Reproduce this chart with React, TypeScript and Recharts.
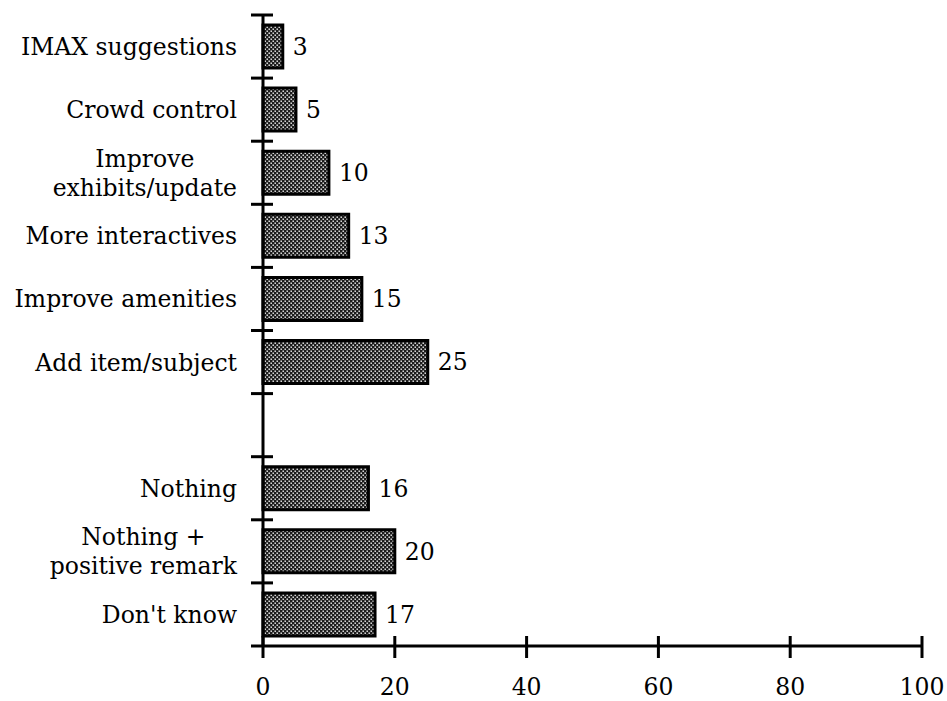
import React from "react";
import { BarChart, Bar, XAxis, YAxis, LabelList } from "recharts";

const categories = [
  "IMAX suggestions",
  "Crowd control",
  "Improve\nexhibits/update",
  "More interactives",
  "Improve amenities",
  "Add item/subject",
  "",
  "Nothing",
  "Nothing +\npositive remark",
  "Don't know",
];
const values: (number | null)[] = [3, 5, 10, 13, 15, 25, null, 16, 20, 17];
const xTicks = [0, 20, 40, 60, 80, 100];

const data = categories.map((label, i) => ({ key: `c${i}`, label, value: values[i] }));

const FONT = "'DejaVu Serif', serif";
const FONT_SIZE = 23.5;

let ctx: CanvasRenderingContext2D | null = null;
function measure(t: string): number {
  if (!ctx && typeof document !== "undefined") {
    ctx = document.createElement("canvas").getContext("2d");
  }
  if (!ctx) return t.length * FONT_SIZE * 0.55;
  ctx.font = `${FONT_SIZE}px "DejaVu Serif"`;
  return ctx.measureText(t).width;
}

const YTick = (props: any) => {
  const { x, y, payload, index, visibleTicksCount } = props;
  const half = payload && typeof payload.offset === "number" && payload.offset > 0 ? payload.offset : 31.5;
  const idx = typeof payload?.index === "number" ? payload.index : index;
  const label = categories[idx] ?? "";
  const lines = label ? label.split("\n") : [];
  const right = x - 26;
  const maxW = Math.max(0, ...lines.map(measure));
  const lh = 29;
  const isLast = idx === (visibleTicksCount ?? categories.length) - 1;
  return (
    <g>
      <line x1={x - 12} x2={x + 10} y1={y - half} y2={y - half} stroke="#000" strokeWidth={3} />
      {isLast && (
        <line x1={x - 12} x2={x} y1={y + half} y2={y + half} stroke="#000" strokeWidth={3} />
      )}
      {lines.map((ln, i) => {
        const ly = y + (i - (lines.length - 1) / 2) * lh;
        if (lines.length === 1) {
          return (
            <text key={i} x={right} y={ly} dy="0.36em" textAnchor="end" fontFamily={FONT} fontSize={FONT_SIZE} fill="#000">
              {ln}
            </text>
          );
        }
        return (
          <text key={i} x={right - maxW / 2} y={ly} dy="0.36em" textAnchor="middle" fontFamily={FONT} fontSize={FONT_SIZE} fill="#000">
            {ln}
          </text>
        );
      })}
    </g>
  );
};

const XTick = (props: any) => {
  const { x, y, payload } = props;
  return (
    <g>
      <line x1={x} x2={x} y1={y - 10} y2={y + 12} stroke="#000" strokeWidth={3} />
      <text x={x} y={y + 41} dy="0.36em" textAnchor="middle" fontFamily={FONT} fontSize={FONT_SIZE} fill="#000">
        {payload.value}
      </text>
    </g>
  );
};

export default function App() {
  return (
    <div style={{ position: "absolute", left: 0, top: 0, width: 947, height: 701, background: "#fff" }}>
      <BarChart
        width={947}
        height={701}
        data={data}
        layout="vertical"
        margin={{ top: 15, right: 25, bottom: 0, left: 0 }}
      >
        <defs>
          <pattern id="stipple" width="4" height="4" patternUnits="userSpaceOnUse">
            <rect width="4" height="4" fill="#1c1c1c" />
            <rect x="0.5" y="0.5" width="1.4" height="1.4" fill="#fff" />
            <rect x="2.5" y="2.5" width="1.4" height="1.4" fill="#fff" />
          </pattern>
        </defs>
        <XAxis
          type="number"
          domain={[0, 100]}
          ticks={xTicks}
          height={55}
          tickSize={0}
          tickMargin={0}
          tickLine={false}
          axisLine={{ stroke: "#000", strokeWidth: 3 }}
          tick={<XTick />}
          interval={0}
        />
        <YAxis
          type="category"
          dataKey="key"
          width={263}
          tickSize={0}
          tickMargin={0}
          tickLine={false}
          axisLine={{ stroke: "#000", strokeWidth: 3 }}
          tick={<YTick />}
          interval={0}
        />
        <Bar dataKey="value" barSize={43} fill="url(#stipple)" stroke="#000" strokeWidth={3} isAnimationActive={false}>
          <LabelList dataKey="value" position="right" offset={10} fontFamily={FONT} fontSize={FONT_SIZE} fill="#000" />
        </Bar>
      </BarChart>
    </div>
  );
}
